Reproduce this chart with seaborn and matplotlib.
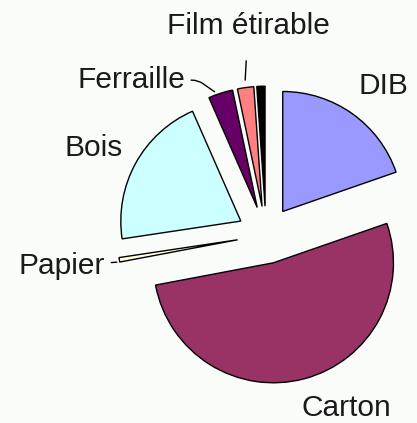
import matplotlib
matplotlib.use("Agg")
import matplotlib.pyplot as plt
import seaborn as sns

# waste categories, clockwise from 12 o'clock
categories = ["DIB", "Carton", "Papier", "Bois", "Ferraille", "Film étirable", ""]
shares = [19.7, 52.4, 0.6, 20.8, 3.3, 2.2, 1.1]
colors = ["#9999FF", "#993366", "#FFFFE0", "#CCFFFF", "#660066", "#FF8080", "#000000"]

sns.set_theme(style="white")
plt.rcParams["font.family"] = ["Liberation Sans", "DejaVu Sans"]

fig = plt.figure(figsize=(4.17, 4.23), dpi=100, facecolor="#FAFCFA")
ax = fig.add_axes([0, 0, 1, 1])
ax.set_facecolor("#FAFCFA")

wedges, _ = ax.pie(shares, colors=colors, startangle=90, counterclock=False,
                   explode=[0.24] * len(shares),
                   wedgeprops=dict(edgecolor="black", linewidth=1.0))

ax.set_xlim(-2.217, 1.258)
ax.set_ylim(-1.567, 1.958)
ax.set_aspect("equal")
ax.axis("off")

fs = 21.5
tc = "#1a1a1a"
ax.text(0.975, 1.24, "DIB", fontsize=fs, ha="center", va="center", color=tc)
ax.text(0.667, -1.44, "Carton", fontsize=fs, ha="center", va="center", color=tc)
ax.text(-1.44, 0.725, "Bois", fontsize=fs, ha="center", va="center", color=tc)

ax.annotate("Papier", xy=(-1.22, -0.225), xytext=(-1.34, -0.26), fontsize=fs,
            ha="right", va="center", color=tc,
            arrowprops=dict(arrowstyle="-", color="black", lw=1, shrinkA=2))
ax.annotate("Ferraille", xy=(-0.41, 1.18), xytext=(-0.675, 1.29), fontsize=fs,
            ha="right", va="center", color=tc,
            arrowprops=dict(arrowstyle="-", color="black", lw=1,
                            connectionstyle="angle,angleA=0,angleB=-35,rad=6"))
ax.annotate("Film étirable", xy=(-0.175, 1.267), xytext=(-0.15, 1.745), fontsize=fs,
            ha="center", va="center", color=tc,
            arrowprops=dict(arrowstyle="-", color="black", lw=1, shrinkA=13))

fig.savefig("out.png", dpi=100, facecolor=fig.get_facecolor())
